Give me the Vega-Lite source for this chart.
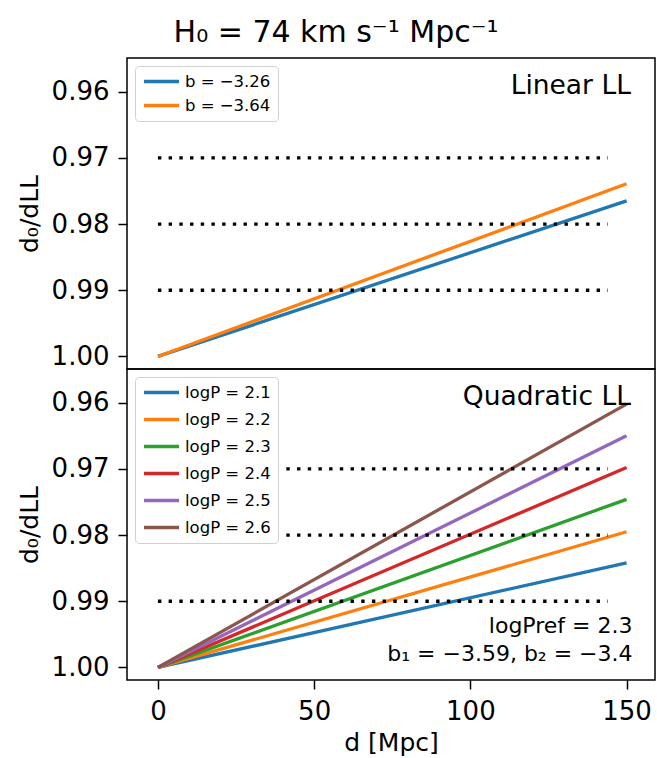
{
  "$schema": "https://vega.github.io/schema/vega-lite/v6.json",
  "background": "white",
  "padding": {"left": 16, "top": 18, "right": 1, "bottom": 0},
  "title": {"text": "H₀ = 74 km s⁻¹ Mpc⁻¹", "fontSize": 30, "font": "DejaVu Sans", "fontWeight": "normal", "anchor": "middle", "offset": 9, "color": "black"},
  "config": {
    "view": {"stroke": "black", "strokeWidth": 1.5},
    "axis": {"domain": false, "tickColor": "black", "tickWidth": 1.5, "tickSize": 9, "labelColor": "black", "labelFont": "DejaVu Sans", "labelFontSize": 26, "titleFont": "DejaVu Sans", "titleFontSize": 25, "titleFontWeight": "normal", "titleColor": "black", "grid": false, "labelPadding": 9},
    "legend": {"labelFont": "DejaVu Sans", "labelFontSize": 16.5, "labelColor": "black", "symbolType": "stroke", "symbolStrokeWidth": 3.3, "symbolSize": 1225, "clipHeight": 17, "strokeColor": "#d0d0d0", "fillColor": "white", "cornerRadius": 4, "padding": 7, "offset": 8, "rowPadding": 7}
  },
  "datasets": {
    "linear": [
      {"d": 0, "ratio": 1.0, "series": "b = −3.26"},
      {"d": 150, "ratio": 0.9765, "series": "b = −3.26"},
      {"d": 0, "ratio": 1.0, "series": "b = −3.64"},
      {"d": 150, "ratio": 0.9739, "series": "b = −3.64"}
    ],
    "quad": [
      {"d": 0, "ratio": 1.0, "series": "logP = 2.1"},
      {"d": 150, "ratio": 0.9842, "series": "logP = 2.1"},
      {"d": 0, "ratio": 1.0, "series": "logP = 2.2"},
      {"d": 150, "ratio": 0.9795, "series": "logP = 2.2"},
      {"d": 0, "ratio": 1.0, "series": "logP = 2.3"},
      {"d": 150, "ratio": 0.9746, "series": "logP = 2.3"},
      {"d": 0, "ratio": 1.0, "series": "logP = 2.4"},
      {"d": 150, "ratio": 0.9698, "series": "logP = 2.4"},
      {"d": 0, "ratio": 1.0, "series": "logP = 2.5"},
      {"d": 150, "ratio": 0.965, "series": "logP = 2.5"},
      {"d": 0, "ratio": 1.0, "series": "logP = 2.6"},
      {"d": 150, "ratio": 0.9602, "series": "logP = 2.6"}
    ],
    "refs": [
      {"level": 0.97, "start": 0, "end": 144},
      {"level": 0.98, "start": 0, "end": 144},
      {"level": 0.99, "start": 0, "end": 144}
    ],
    "notesTop": [
      {"label": "Linear LL", "px": 151.4, "py": 0.9591}
    ],
    "notesBottom": [
      {"label": "Quadratic LL", "px": 151.4, "py": 0.9591}
    ],
    "notesFit": [
      {"label": "logPref = 2.3", "px": 151.9, "py": 0.9937},
      {"label": "b₁ = −3.59, b₂ = −3.4", "px": 151.9, "py": 0.9979}
    ]
  },
  "spacing": 0,
  "bounds": "flush",
  "resolve": {"legend": {"color": "independent", "stroke": "independent"}},
  "vconcat": [
    {
      "width": 528,
      "height": 311,
      "layer": [
        {
          "data": {"name": "linear"},
          "mark": {"type": "line", "strokeWidth": 3.3},
          "encoding": {
            "x": {"field": "d", "type": "quantitative", "scale": {"domain": [-9.9, 159.1], "nice": false, "zero": false}, "axis": {"labels": false, "ticks": false, "title": null, "minExtent": 0, "maxExtent": 0, "labelPadding": 0, "offset": 0}},
            "y": {"field": "ratio", "type": "quantitative", "scale": {"domain": [0.9549, 1.0019], "reverse": true, "nice": false, "zero": false}, "axis": {"title": "d₀/dLL", "values": [0.96, 0.97, 0.98, 0.99, 1.0], "format": ".2f", "titlePadding": 9}},
            "color": {"field": "series", "type": "nominal", "scale": {"domain": ["b = −3.26", "b = −3.64"], "range": ["#1f77b4", "#ff7f0e"]}, "legend": {"orient": "top-left", "title": null}}
          }
        },
        {
          "data": {"name": "refs"},
          "mark": {"type": "rule", "color": "black", "strokeWidth": 3.4, "strokeDash": [3.4, 7.3]},
          "encoding": {
            "x": {"field": "start", "type": "quantitative"},
            "x2": {"field": "end"},
            "y": {"field": "level", "type": "quantitative"}
          }
        },
        {
          "data": {"name": "notesTop"},
          "mark": {"type": "text", "align": "right", "baseline": "middle", "font": "DejaVu Sans", "fontSize": 26.5, "color": "black"},
          "encoding": {
            "x": {"field": "px", "type": "quantitative"},
            "y": {"field": "py", "type": "quantitative"},
            "text": {"field": "label"}
          }
        }
      ]
    },
    {
      "width": 528,
      "height": 311,
      "layer": [
        {
          "data": {"name": "quad"},
          "mark": {"type": "line", "strokeWidth": 3.3},
          "encoding": {
            "x": {"field": "d", "type": "quantitative", "scale": {"domain": [-9.9, 159.1], "nice": false, "zero": false}, "axis": {"title": "d [Mpc]", "values": [0, 50, 100, 150], "titlePadding": 6}},
            "y": {"field": "ratio", "type": "quantitative", "scale": {"domain": [0.9549, 1.0019], "reverse": true, "nice": false, "zero": false}, "axis": {"title": "d₀/dLL", "values": [0.96, 0.97, 0.98, 0.99, 1.0], "format": ".2f", "titlePadding": 9}},
            "stroke": {"field": "series", "type": "nominal", "scale": {"domain": ["logP = 2.1", "logP = 2.2", "logP = 2.3", "logP = 2.4", "logP = 2.5", "logP = 2.6"], "range": ["#1f77b4", "#ff7f0e", "#2ca02c", "#d62728", "#9467bd", "#8c564b"]}, "legend": {"orient": "top-left", "title": null, "rowPadding": 10}}
          }
        },
        {
          "data": {"name": "refs"},
          "mark": {"type": "rule", "color": "black", "strokeWidth": 3.4, "strokeDash": [3.4, 7.3]},
          "encoding": {
            "x": {"field": "start", "type": "quantitative"},
            "x2": {"field": "end"},
            "y": {"field": "level", "type": "quantitative"}
          }
        },
        {
          "data": {"name": "notesBottom"},
          "mark": {"type": "text", "align": "right", "baseline": "middle", "font": "DejaVu Sans", "fontSize": 26.5, "color": "black"},
          "encoding": {
            "x": {"field": "px", "type": "quantitative"},
            "y": {"field": "py", "type": "quantitative"},
            "text": {"field": "label"}
          }
        },
        {
          "data": {"name": "notesFit"},
          "mark": {"type": "text", "align": "right", "baseline": "middle", "font": "DejaVu Sans", "fontSize": 22, "color": "black"},
          "encoding": {
            "x": {"field": "px", "type": "quantitative"},
            "y": {"field": "py", "type": "quantitative"},
            "text": {"field": "label"}
          }
        }
      ]
    }
  ]
}
